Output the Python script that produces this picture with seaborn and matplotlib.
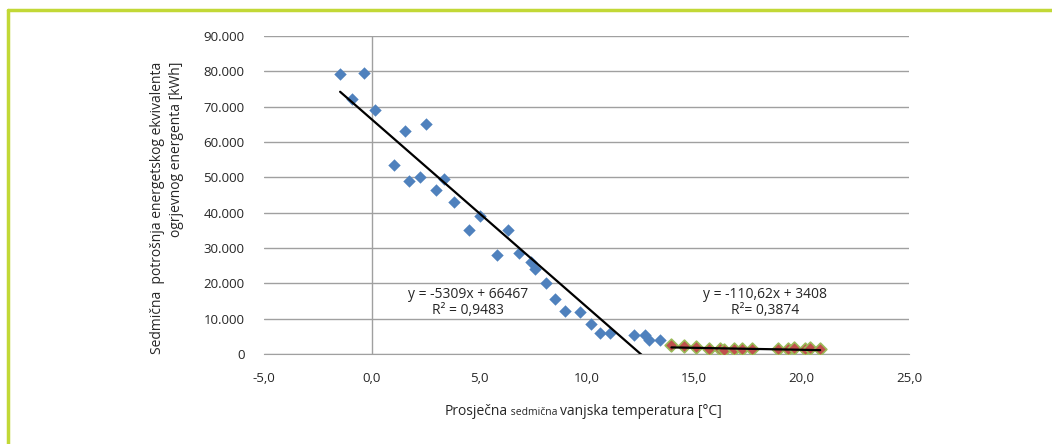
import matplotlib
matplotlib.use('Agg')
import matplotlib.pyplot as plt
import matplotlib.lines as mlines
from matplotlib.ticker import FuncFormatter, MultipleLocator
import numpy as np
import pandas as pd
import seaborn as sns

# podaci - hladni tjedni (plavo)
temp_cold = [-1.46, -0.92, -0.34, 0.17, 1.04, 1.55, 1.75, 2.27, 2.53, 3.02, 3.35, 3.83,
             4.53, 5.04, 5.83, 6.33, 6.88, 7.40, 7.61, 8.13, 8.53, 9.02, 9.72, 10.22,
             10.62, 11.08, 12.20, 12.71, 12.90, 13.41]
energy_cold = [79240, 72080, 79440, 69050, 53570, 63020, 49040, 50180, 65090, 46500, 49610, 43100,
               35090, 38970, 28020, 35010, 28580, 26040, 23970, 20090, 15650, 12170, 11800, 8490,
               6030, 5940, 5290, 5290, 3960, 4050]

# topli tjedni (crveno/zeleno)
temp_warm = [13.95, 14.53, 15.10, 15.72, 16.19, 16.39, 16.88, 17.22, 17.69, 18.92,
             19.38, 19.67, 20.15, 20.40, 20.87]
energy_warm = [2550, 2260, 2070, 1330, 1330, 1130, 1415, 1330, 1330, 1415,
               1330, 1700, 1415, 1600, 1415]

# jednadzbe trendova
fit_cold = (-5309, 66467)
fit_warm = (-110.62, 3408)
label_cold = 'y = -5309x + 66467\nR² = 0,9483'
label_warm = 'y = -110,62x + 3408\nR²= 0,3874'

sns.set_style('white')
plt.rcParams['font.family'] = ['Open Sans', 'DejaVu Sans']

fig = plt.figure(figsize=(10.52, 4.44), dpi=100)
ax = fig.add_axes([264 / 1052, 1 - 354 / 444, (909 - 264) / 1052, (354 - 36) / 444])

grid_col = '#a0a0a0'
ax.set_xlim(-5, 25)
ax.set_ylim(0, 90000)
ax.yaxis.set_major_locator(MultipleLocator(10000))
ax.xaxis.set_major_locator(MultipleLocator(5))
ax.grid(axis='y', color=grid_col, lw=1)
ax.axvline(0, color=grid_col, lw=1, zorder=1)
for s in ['top', 'right', 'left']:
    ax.spines[s].set_visible(False)
ax.spines['bottom'].set_color(grid_col)
ax.tick_params(axis='x', direction='out', length=5, color=grid_col, labelsize=9.5, pad=8)
ax.tick_params(axis='y', length=0, labelsize=9.5, pad=14)

df_cold = pd.DataFrame({'t': temp_cold, 'e': energy_cold})
df_warm = pd.DataFrame({'t': temp_warm, 'e': energy_warm})

sns.scatterplot(x='t', y='e', data=df_cold, marker='D', s=40, color='#4f81bd',
                edgecolor='#4f81bd', linewidth=0, ax=ax, zorder=3)
sns.scatterplot(x='t', y='e', data=df_warm, marker='D', s=42, color='#c0504d',
                edgecolor='#9bbb59', linewidth=1.2, ax=ax, zorder=3)

# linije trenda
xc = np.array([min(temp_cold), max(temp_cold)])
ax.plot(xc, fit_cold[0] * xc + fit_cold[1], color='black', lw=1.6, zorder=4)
xw = np.array([min(temp_warm), max(temp_warm)])
ax.plot(xw, fit_warm[0] * xw + fit_warm[1], color='black', lw=1.6, zorder=4)

ax.text(4.5, 14600, label_cold, ha='center', va='center', fontsize=10, linespacing=1.1)
ax.text(18.3, 14600, label_warm, ha='center', va='center', fontsize=10, linespacing=1.1)

ax.yaxis.set_major_formatter(FuncFormatter(lambda v, p: '0' if v == 0 else f'{int(v):,}'.replace(',', '.')))
ax.xaxis.set_major_formatter(FuncFormatter(lambda v, p: f'{v:.1f}'.replace('.', ',')))
ax.set_xlabel('')
ax.set_ylabel('')

# os y naslov
fig.text(167 / 1052, 1 - 208 / 444,
         'Sedmična  potrošnja energetskog ekvivalenta\nogrjevnog energenta [kWh]',
         rotation=90, ha='center', va='center', multialignment='right', fontsize=10,
         linespacing=1.4)

# os x naslov (mijesana velicina, ista osnovna linija)
y_lab = 1 - 415 / 444
parts = [('Prosječna', 10), (' sedmična ', 7.5), ('vanjska temperatura [°C]', 10)]
x_pos = 445 / 1052
fig.canvas.draw()
r = fig.canvas.get_renderer()
for txt, fs in parts:
    t = fig.text(x_pos, y_lab, txt, fontsize=fs, va='baseline')
    bb = t.get_window_extent(renderer=r)
    x_pos = bb.x1 / fig.bbox.width

# zeleni okvir
green = '#c2d836'
fig.add_artist(mlines.Line2D([8 / 1052, 8 / 1052], [0, 1 - 10 / 444], color=green, lw=2.5))
fig.add_artist(mlines.Line2D([8 / 1052, 1], [1 - 10 / 444, 1 - 10 / 444], color=green, lw=2.5))

fig.savefig('out.png', dpi=100)
